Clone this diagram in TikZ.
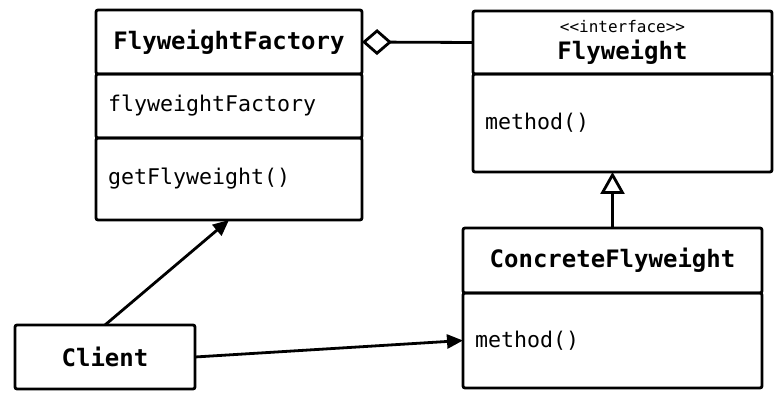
\documentclass[tikz,border=0pt]{standalone}
\usepackage{fontspec}
\usetikzlibrary{arrows.meta, positioning}
\newfontfamily\umlfont{DejaVu Sans Mono}
\tikzstyle{arrow} = [line width=1.4pt,-{Triangle[length=8pt,width=7pt]}]
\tikzstyle{inherit} = [line width=1.4pt,-{Triangle[open,length=11pt,width=12pt]}]
\tikzstyle{aggregate} = [line width=1.4pt,-{Diamond[open,length=15pt,width=13pt]}]
\tikzset{
	compart/.style = {rectangle, draw=black, line width=1.4pt, outer sep=0pt,
		inner sep=0pt, rounded corners=1pt},
	headbox/.style = {compart, align=center,
		font=\umlfont\bfseries\fontsize{12}{14}\selectfont},
	bodybox/.style = {compart, align=left, inner xsep=6pt,
		font=\umlfont\fontsize{10.8}{13}\selectfont},
}

\begin{document}
\begin{tikzpicture}
\useasboundingbox (0,0) rectangle (391.5pt,203.5pt);
% Placement of nodes
\node (factName) [headbox, minimum width=133pt, minimum height=32pt] at (114.5pt,182.5pt) {FlyweightFactory};
\node (factAttr) [bodybox, text width=121pt, minimum height=32pt, below=0pt of factName] {flyweightFactory};
\node (factOps) [bodybox, text width=121pt, minimum height=41pt, below=0pt of factAttr] {getFlyweight()};

\node (flyName) [headbox, minimum width=149.5pt, minimum height=31.5pt] at (311.25pt,182.25pt) {{\mdseries\fontsize{8}{9}\selectfont <<interface>>}\\[-0.5pt]Flyweight};
\node (flyOps) [bodybox, text width=137.5pt, minimum height=49pt, below=0pt of flyName] {method()};

\node (concName) [headbox, minimum width=149.5pt, minimum height=32.5pt] at (306.25pt,73.25pt) {ConcreteFlyweight};
\node (concOps) [bodybox, text width=137.5pt, minimum height=47.5pt, below=0pt of concName] {method()};

\node (client) [headbox, minimum width=90pt, minimum height=32pt] at (52.5pt,25pt) {Client};

% Placement of edges
\draw [aggregate] (flyName.west) -- (factName.east);
\draw [inherit] (concName.north) -- (concName.north |- flyOps.south);
\draw [arrow] (client.north) -- (factOps.south);
\draw [arrow] (client.east) -- (concOps.west);

\end{tikzpicture}
\end{document}
